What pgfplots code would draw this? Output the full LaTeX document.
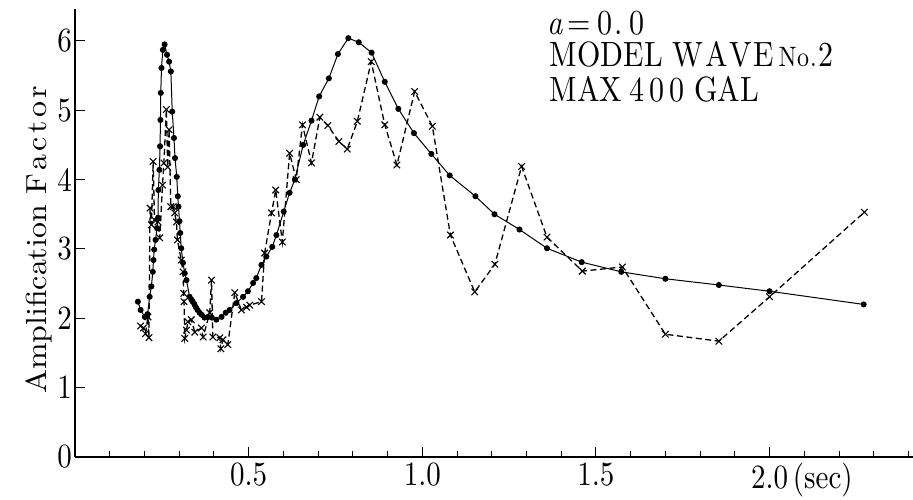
\documentclass[border=0pt]{standalone}
\usepackage{fontspec}
\setmainfont{lmroman10-regular.otf}[ItalicFont=lmroman10-italic.otf]
\usepackage{pgfplots}
\pgfplotsset{compat=1.18}

% letter spacing by hand: \lsp{kern}{word}
\newdimen\spk
\def\spgobble#1{}
\def\sp#1{#1\futurelet\spnext\spcheck}
\def\spcheck{\ifx\spnext\relax\expandafter\spgobble\else\kern\spk\expandafter\sp\fi}
\newcommand\lsp[2]{{\spk=#1\relax\sp#2\relax}}
% text in the scan is a little taller than Latin Modern
\newcommand\tall[1]{\scalebox{1}[1.17]{#1}}

\pgfplotstableread{
x y
0.181 2.24
0.189 2.12
0.201 2.02
0.209 2.06
0.215 2.31
0.220 2.46
0.224 2.67
0.226 2.84
0.228 2.99
0.232 3.13
0.236 3.30
0.239 3.45
0.240 3.85
0.243 4.14
0.245 4.48
0.246 4.86
0.247 5.25
0.249 5.61
0.253 5.87
0.258 5.95
0.265 5.80
0.271 5.70
0.276 5.56
0.280 4.98
0.285 4.60
0.288 4.31
0.293 4.04
0.296 3.76
0.298 3.61
0.301 3.40
0.303 3.23
0.306 3.01
0.311 2.80
0.316 2.65
0.321 2.55
0.330 2.31
0.335 2.27
0.339 2.24
0.344 2.20
0.348 2.16
0.353 2.12
0.359 2.08
0.365 2.05
0.373 2.01
0.383 2.02
0.394 2.01
0.407 1.98
0.422 2.02
0.434 2.08
0.445 2.12
0.465 2.22
0.484 2.31
0.498 2.39
0.513 2.51
0.522 2.58
0.537 2.77
0.551 2.89
0.568 3.03
0.580 3.20
0.601 3.54
0.618 3.81
0.633 4.00
0.657 4.50
0.681 4.85
0.703 5.20
0.731 5.46
0.757 5.81
0.787 6.04
0.817 5.98
0.854 5.83
0.892 5.41
0.931 5.02
0.976 4.67
1.026 4.37
1.079 4.06
1.153 3.76
1.208 3.50
1.280 3.28
1.359 3.01
1.459 2.81
1.573 2.67
1.700 2.57
1.854 2.48
2.000 2.39
2.271 2.20
}\dots

\pgfplotstableread{
x y
0.189 1.89
0.197 1.86
0.203 1.78
0.210 2.02
0.213 1.72
0.216 3.59
0.220 3.35
0.225 4.26
0.229 3.42
0.239 3.39
0.244 3.16
0.252 3.92
0.256 4.24
0.263 5.01
0.267 4.18
0.271 4.72
0.276 3.61
0.283 3.61
0.287 3.52
0.292 3.39
0.295 3.13
0.306 2.84
0.311 2.67
0.313 2.36
0.314 2.24
0.316 1.71
0.321 1.83
0.325 1.95
0.335 1.98
0.345 1.80
0.364 1.86
0.369 1.73
0.388 2.08
0.393 2.55
0.397 1.73
0.417 1.72
0.420 1.56
0.426 1.69
0.440 1.62
0.460 2.37
0.479 2.12
0.494 2.16
0.503 2.19
0.537 2.24
0.546 2.94
0.566 3.52
0.578 3.85
0.597 3.10
0.618 4.38
0.637 4.00
0.655 4.79
0.681 4.24
0.705 4.90
0.728 4.78
0.760 4.55
0.784 4.44
0.813 4.84
0.853 5.70
0.892 4.79
0.927 4.21
0.978 5.27
1.029 4.77
1.081 3.20
1.151 2.38
1.209 2.78
1.286 4.19
1.359 3.17
1.461 2.68
1.576 2.74
1.700 1.77
1.854 1.67
2.000 2.31
2.273 3.53
}\crosses

\begin{document}
\begin{tikzpicture}
\begin{axis}[
    scale only axis, width=838pt, height=448pt,
    xmin=0, xmax=2.413, ymin=0, ymax=6.46,
    axis x line*=bottom, axis y line*=left,
    axis line style={line width=1.1pt},
    tick align=inside, tick style={black, line width=0.9pt},
    major tick length=10pt, minor tick length=6pt,
    xtick={0.5,1.0,1.5,2.0},
    xticklabels={\tall{0.5},\tall{1.0},\tall{1.5},\tall{2.0\rlap{\,(sec)}}},
    minor xtick={0.1,0.2,0.3,0.4,0.6,0.7,0.8,0.9,1.1,1.2,1.3,1.4,1.6,1.7,1.8,1.9,2.1,2.2,2.3,2.4},
    ytick={0,1,2,3,4,5,6},
    yticklabels={\tall{0},\tall{1},\tall{2},\tall{3},\tall{4},\tall{5},\tall{6}},
    tick label style={font=\fontsize{29}{31}\selectfont, inner sep=3pt},
    xticklabel style={yshift=-3pt},
    yticklabel style={xshift=0pt},
    ylabel={\scalebox{1.1}[1]{Amplification \lsp{3pt}{Factor}}},
    label style={font=\fontsize{29}{31}\selectfont},
    ylabel style={yshift=-1pt, xshift=-7pt},
    clip=false,
]
\addplot[black, line width=1pt, mark=*, mark size=2.5pt] table[x=x, y=y] {\dots};
\addplot[black, line width=1.3pt, dash pattern=on 6pt off 3.5pt, mark=x, mark size=4.6pt,
    mark options={solid, line width=1.1pt}] table[x=x, y=y] {\crosses};
\begin{scope}[every node/.style={anchor=base west, inner sep=0pt, font=\fontsize{30}{32}\selectfont}]
\node at (axis cs:1.361,6.087) {\tall{\textit{a}\kern4pt=\kern7pt0\kern2pt.\kern6pt0}};
\node at (axis cs:1.367,5.625) {\tall{MODEL \lsp{1.5pt}{WAVE}\kern5pt{\fontsize{24}{26}\selectfont N\kern0.5pt o\kern1pt.\kern1.5pt}2}};
\node at (axis cs:1.367,5.120) {\tall{MAX\kern7pt\lsp{5pt}{400}\kern10pt GAL}};
\end{scope}
\end{axis}
\pgfresetboundingbox
\path (-75pt,-43pt) rectangle (838pt,457pt);
\end{tikzpicture}
\end{document}
